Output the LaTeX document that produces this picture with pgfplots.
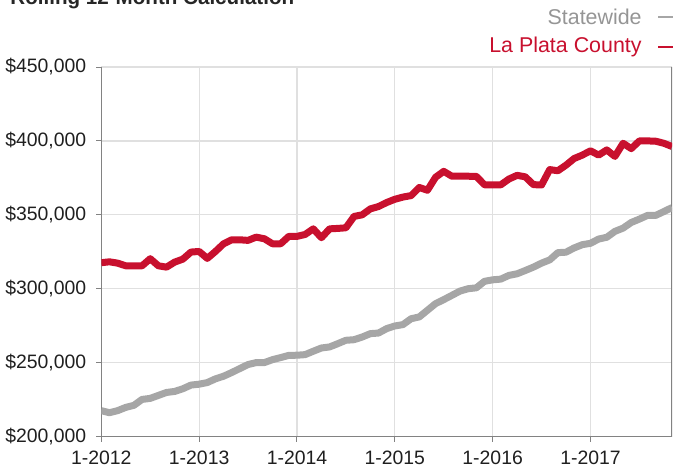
\documentclass[border=0pt]{standalone}
\usepackage{pgfplots}
\pgfplotsset{compat=1.18}
\usepackage{fontspec}
\setmainfont{Liberation Sans}
\definecolor{lpred}{RGB}{200,16,46}
\definecolor{swgray}{RGB}{166,166,166}
\definecolor{gridc}{RGB}{224,224,224}
\definecolor{axc}{RGB}{130,130,130}
\begin{document}
\begin{tikzpicture}
\useasboundingbox (0,0) rectangle (336.5pt,234pt);
\node[anchor=base west, inner sep=0pt, font=\fontsize{10.3}{12}\selectfont\bfseries, text=black!85] at (5pt,232pt) {Rolling 12-Month Calculation};
\node[anchor=east, inner sep=0pt, font=\fontsize{10.7}{12}\selectfont, text=swgray!90!black] at (321pt,225.5pt) {Statewide};
\draw[swgray, line width=1pt] (329pt,225.5pt) -- (342pt,225.5pt);
\node[anchor=east, inner sep=0pt, font=\fontsize{10.7}{12}\selectfont, text=lpred] at (321pt,210.5pt) {La Plata County};
\draw[lpred, line width=1pt] (329pt,210.5pt) -- (342pt,210.5pt);
\begin{axis}[
  at={(50.65pt,15.75pt)}, anchor=south west,
  scale only axis, width=285.35pt, height=184.75pt,
  xmin=0, xmax=70, ymin=200000, ymax=450000,
  axis x line*=bottom, axis y line*=left,
  axis line style={axc, line width=0.6pt},
  xtick={0,12,24,36,48,60},
  xticklabels={1-2012,1-2013,1-2014,1-2015,1-2016,1-2017},
  ytick={200000,250000,300000,350000,400000,450000},
  yticklabels={{\$200,000},{\$250,000},{\$300,000},{\$350,000},{\$400,000},{\$450,000}},
  tick align=outside, major tick length=2.5pt,
  tick style={axc, line width=0.5pt},
  xmajorgrids, ymajorgrids,
  grid style={gridc, line width=0.6pt},
  ticklabel style={font=\fontsize{9.7}{11}\selectfont, text=black!88},
  xticklabel style={yshift=-1pt},
  yticklabel style={xshift=-1.5pt},
  scaled y ticks=false,
]
\draw[axc, line width=0.6pt] (rel axis cs:1,0) -- (rel axis cs:1,1);
\addplot[swgray, line width=3.5pt, line join=round] coordinates {
(0,217500)(1,216100)(2,217500)(3,219700)(4,221100)(5,225100)(6,225800)(7,227800)(8,229800)(9,230500)
(10,232300)(11,234800)(12,235400)(13,236500)(14,239000)(15,240800)(16,243300)(17,246000)(18,248700)(19,250000)
(20,250000)(21,252000)(22,253400)(23,254900)(24,255000)(25,255400)(26,257700)(27,259900)(28,260600)(29,262800)
(30,265100)(31,265500)(32,267300)(33,269600)(34,270000)(35,273000)(36,274800)(37,275700)(38,279700)(39,280900)
(40,285400)(41,289900)(42,292600)(43,295500)(44,298400)(45,300000)(46,300600)(47,305000)(48,306000)(49,306500)
(50,309000)(51,310100)(52,312300)(53,314600)(54,317300)(55,319500)(56,324400)(57,324700)(58,327600)(59,329800)
(60,330700)(61,333600)(62,334800)(63,338800)(64,341000)(65,344800)(66,347100)(67,349600)(68,349600)(69,352200)
(70,354900)
};
\addplot[lpred, line width=3.5pt, line join=round] coordinates {
(0,317600)(1,318200)(2,317300)(3,315500)(4,315500)(5,315500)(6,320300)(7,315500)(8,314600)(9,318000)
(10,320000)(11,324800)(12,325200)(13,320500)(14,325200)(15,330400)(16,333100)(17,333100)(18,332700)(19,334900)
(20,333800)(21,330400)(22,330400)(23,335400)(24,335400)(25,336700)(26,340500)(27,334500)(28,340500)(29,340800)
(30,341200)(31,348900)(32,350000)(33,354000)(34,355600)(35,358300)(36,360500)(37,362000)(38,363000)(39,368500)
(40,366600)(41,375400)(42,379400)(43,376100)(44,376100)(45,376100)(46,376000)(47,370300)(48,370300)(49,370300)
(50,374200)(51,376700)(52,375700)(53,370400)(54,370200)(55,380600)(56,379800)(57,383600)(58,388100)(59,390400)
(60,393300)(61,390400)(62,393900)(63,389500)(64,398400)(65,394800)(66,400000)(67,400000)(68,399800)(69,398400)
(70,396200)
};
\end{axis}
\end{tikzpicture}
\end{document}
